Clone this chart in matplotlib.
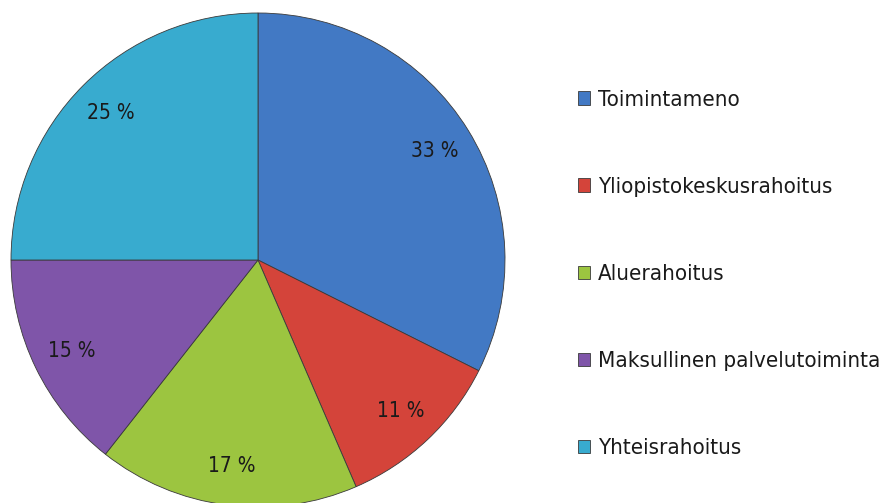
import matplotlib.pyplot as plt
import numpy as np

categories = ['Toimintameno', 'Yliopistokeskusrahoitus', 'Aluerahoitus',
              'Maksullinen palvelutoiminta', 'Yhteisrahoitus']
shares = [32.4, 11.1, 17.1, 14.4, 25.0]
pct_labels = ['33 %', '11 %', '17 %', '15 %', '25 %']
colors = ['#4279c4', '#d4443a', '#9cc540', '#7f55a9', '#38abcf']

plt.rcParams['font.family'] = ['DejaVu Sans']
plt.rcParams['font.stretch'] = 'condensed'

fig = plt.figure(figsize=(8.9, 5.03), dpi=100)
ax = fig.add_axes([0, 0, 1, 1])

wedges, texts = ax.pie(shares, labels=pct_labels, colors=colors, startangle=90,
                       counterclock=False, labeldistance=0.84, radius=1,
                       wedgeprops=dict(edgecolor='#3a3a3a', linewidth=0.6),
                       textprops=dict(fontsize=15, color='#1a1a1a'))
for t in texts:
    t.set_ha('center')
    t.set_va('center')

# put the pie at its place in pixel terms: centre (258, 260), radius 247
r = 247.0
ax.set_xlim(-258 / r, (890 - 258) / r)
ax.set_ylim(-(503 - 260) / r, 260 / r)
ax.set_aspect('auto')
ax.axis('off')

leg = fig.legend(wedges, categories, loc='center left', bbox_to_anchor=(0.639, 0.455),
                 frameon=False, fontsize=16, handlelength=0.55, handleheight=0.55,
                 handletextpad=0.35, labelspacing=3.02, borderaxespad=0)
for t in leg.get_texts():
    t.set_color('#1a1a1a')

fig.savefig('out.png', dpi=100)
